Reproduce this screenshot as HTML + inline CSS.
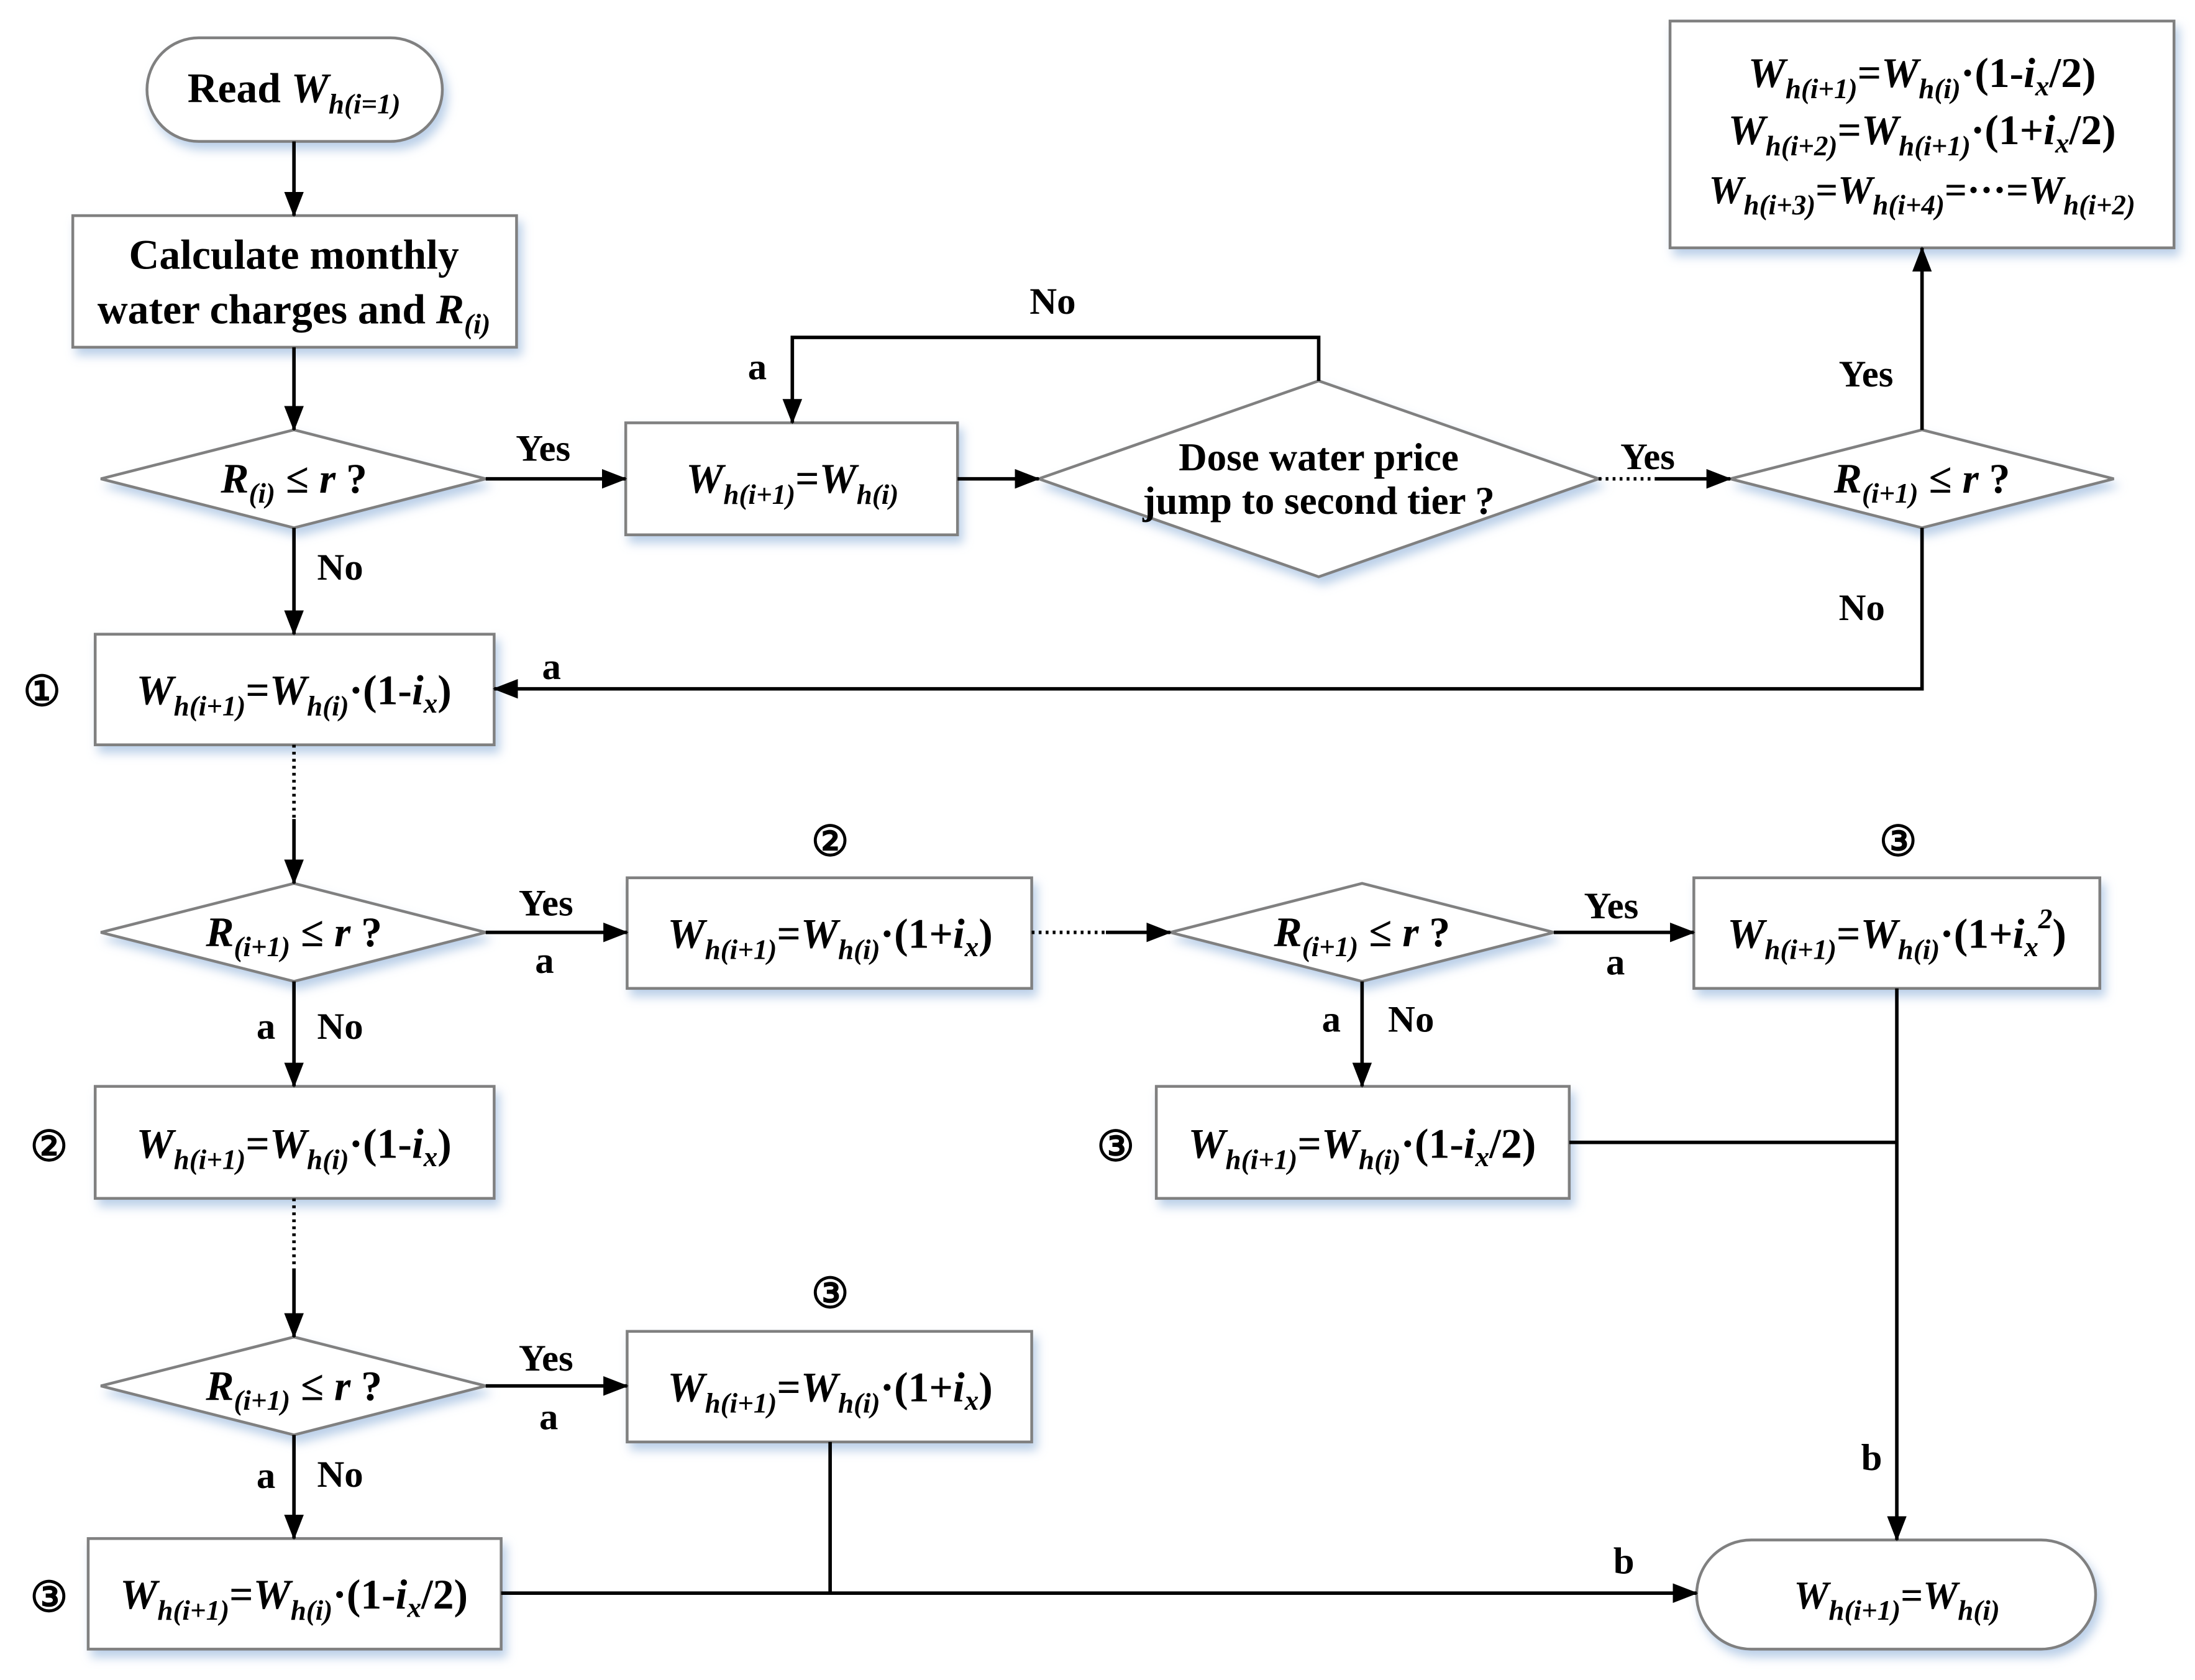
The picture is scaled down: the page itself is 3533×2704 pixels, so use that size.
<!DOCTYPE html>
<html><head><meta charset="utf-8"><style>
html,body{margin:0;padding:0;background:#fff;}
svg{display:block;}
text{font-family:"Liberation Serif",serif;font-size:30px;fill:#000;font-weight:bold;}
.sub{font-size:20px;font-style:italic;}
.it{font-style:italic;}
.lbl{font-size:27px;}
</style></head><body>
<svg width="3533" height="2704" viewBox="0 0 1568 1200" xmlns="http://www.w3.org/2000/svg">
<defs>
<filter id="sh" x="-10%" y="-20%" width="130%" height="150%">
<feDropShadow dx="3" dy="5" stdDeviation="3.5" flood-color="#b4cbe6" flood-opacity="0.9"/>
</filter>
<marker id="ar" markerWidth="18" markerHeight="14" refX="17" refY="7" orient="auto" markerUnits="userSpaceOnUse">
<path d="M0,0 L18,7 L0,14 z" fill="#000"/>
</marker>
</defs>
<g fill="#fff" stroke="#808080" stroke-width="2" filter="url(#sh)">
<rect x="105" y="27" width="211" height="74" rx="37"/>
<rect x="52" y="154" width="317" height="94"/>
<polygon points="72,342 210,307 347,342 210,377"/>
<rect x="447" y="302" width="237" height="80"/>
<polygon points="742,342 942,272 1142,342 942,412"/>
<polygon points="1236,342 1373,307 1510,342 1373,377"/>
<rect x="1193" y="15" width="360" height="162"/>
<rect x="68" y="453" width="285" height="79"/>
<polygon points="72,666 210,631 347,666 210,701"/>
<rect x="448" y="627" width="289" height="79"/>
<polygon points="836,666 973,631 1110,666 973,701"/>
<rect x="1210" y="627" width="290" height="79"/>
<rect x="68" y="776" width="285" height="80"/>
<rect x="826" y="776" width="295" height="80"/>
<polygon points="72,990 210,955 347,990 210,1025"/>
<rect x="448" y="951" width="289" height="79"/>
<rect x="63" y="1099" width="295" height="79"/>
<rect x="1212" y="1100" width="285" height="78" rx="39"/>
</g>
<g stroke="#000" stroke-width="2.5" fill="none">
<line x1="210" y1="101" x2="210" y2="154" marker-end="url(#ar)"/>
<line x1="210" y1="248" x2="210" y2="307" marker-end="url(#ar)"/>
<line x1="347" y1="342" x2="447" y2="342" marker-end="url(#ar)"/>
<line x1="210" y1="377" x2="210" y2="453" marker-end="url(#ar)"/>
<line x1="684" y1="342" x2="742" y2="342" marker-end="url(#ar)"/>
<polyline points="942,272 942,241 566,241 566,302" marker-end="url(#ar)"/>
<line x1="1142" y1="342" x2="1182" y2="342" stroke-dasharray="2,3"/>
<line x1="1182" y1="342" x2="1236" y2="342" marker-end="url(#ar)"/>
<line x1="1373" y1="307" x2="1373" y2="177" marker-end="url(#ar)"/>
<polyline points="1373,377 1373,492 353,492" marker-end="url(#ar)"/>
<line x1="210" y1="532" x2="210" y2="585" stroke-dasharray="2,3"/>
<line x1="210" y1="585" x2="210" y2="631" marker-end="url(#ar)"/>
<line x1="347" y1="666" x2="448" y2="666" marker-end="url(#ar)"/>
<line x1="210" y1="701" x2="210" y2="776" marker-end="url(#ar)"/>
<line x1="737" y1="666" x2="790" y2="666" stroke-dasharray="2,3"/>
<line x1="790" y1="666" x2="836" y2="666" marker-end="url(#ar)"/>
<line x1="1110" y1="666" x2="1210" y2="666" marker-end="url(#ar)"/>
<line x1="973" y1="701" x2="973" y2="776" marker-end="url(#ar)"/>
<line x1="1355" y1="706" x2="1355" y2="1100" marker-end="url(#ar)"/>
<line x1="1121" y1="816" x2="1355" y2="816"/>
<line x1="210" y1="856" x2="210" y2="908" stroke-dasharray="2,3"/>
<line x1="210" y1="908" x2="210" y2="955" marker-end="url(#ar)"/>
<line x1="347" y1="990" x2="448" y2="990" marker-end="url(#ar)"/>
<line x1="210" y1="1025" x2="210" y2="1099" marker-end="url(#ar)"/>
<line x1="593" y1="1030" x2="593" y2="1138"/>
<line x1="358" y1="1138" x2="1212" y2="1138" marker-end="url(#ar)"/>
</g>
<text x="210" y="73" text-anchor="middle">Read <tspan class="it">W</tspan><tspan class="sub" dy="8">h(i=1)</tspan></text>
<text x="210" y="192" text-anchor="middle">Calculate monthly</text>
<text x="210" y="231" text-anchor="middle">water charges and <tspan class="it">R</tspan><tspan class="sub" dy="7">(i)</tspan></text>
<text x="210" y="352" text-anchor="middle"><tspan class="it">R</tspan><tspan class="sub" dy="7">(i)</tspan><tspan dy="-7"> ≤ </tspan><tspan class="it">r</tspan> ?</text>
<text x="566" y="352" text-anchor="middle"><tspan class="it">W</tspan><tspan class="sub" dy="8">h(i+1)</tspan><tspan dy="-8">=</tspan><tspan class="it">W</tspan><tspan class="sub" dy="8">h(i)</tspan></text>
<text x="942" y="336" text-anchor="middle" style="font-size:28px">Dose water price</text>
<text x="942" y="367" text-anchor="middle" style="font-size:28px">jump to second tier ?</text>
<text x="1373" y="352" text-anchor="middle"><tspan class="it">R</tspan><tspan class="sub" dy="7">(i+1)</tspan><tspan dy="-7"> ≤ </tspan><tspan class="it">r</tspan> ?</text>
<text x="1373" y="62" text-anchor="middle"><tspan class="it">W</tspan><tspan class="sub" dy="8">h(i+1)</tspan><tspan dy="-8">=</tspan><tspan class="it">W</tspan><tspan class="sub" dy="8">h(i)</tspan><tspan dy="-8">·(1-</tspan><tspan class="it">i</tspan><tspan class="sub" dy="6">x</tspan><tspan dy="-6">/2)</tspan></text>
<text x="1373" y="103" text-anchor="middle"><tspan class="it">W</tspan><tspan class="sub" dy="8">h(i+2)</tspan><tspan dy="-8">=</tspan><tspan class="it">W</tspan><tspan class="sub" dy="8">h(i+1)</tspan><tspan dy="-8">·(1+</tspan><tspan class="it">i</tspan><tspan class="sub" dy="6">x</tspan><tspan dy="-6">/2)</tspan></text>
<text x="1373" y="145" text-anchor="middle" style="font-size:28px"><tspan class="it">W</tspan><tspan class="sub" dy="8">h(i+3)</tspan><tspan dy="-8">=</tspan><tspan class="it">W</tspan><tspan class="sub" dy="8">h(i+4)</tspan><tspan dy="-8">=···=</tspan><tspan class="it">W</tspan><tspan class="sub" dy="8">h(i+2)</tspan></text>
<text x="210" y="503" text-anchor="middle"><tspan class="it">W</tspan><tspan class="sub" dy="8">h(i+1)</tspan><tspan dy="-8">=</tspan><tspan class="it">W</tspan><tspan class="sub" dy="8">h(i)</tspan><tspan dy="-8">·(1-</tspan><tspan class="it">i</tspan><tspan class="sub" dy="6">x</tspan><tspan dy="-6">)</tspan></text>
<text x="210" y="676" text-anchor="middle"><tspan class="it">R</tspan><tspan class="sub" dy="7">(i+1)</tspan><tspan dy="-7"> ≤ </tspan><tspan class="it">r</tspan> ?</text>
<text x="593" y="677" text-anchor="middle"><tspan class="it">W</tspan><tspan class="sub" dy="8">h(i+1)</tspan><tspan dy="-8">=</tspan><tspan class="it">W</tspan><tspan class="sub" dy="8">h(i)</tspan><tspan dy="-8">·(1+</tspan><tspan class="it">i</tspan><tspan class="sub" dy="6">x</tspan><tspan dy="-6">)</tspan></text>
<text x="973" y="676" text-anchor="middle"><tspan class="it">R</tspan><tspan class="sub" dy="7">(i+1)</tspan><tspan dy="-7"> ≤ </tspan><tspan class="it">r</tspan> ?</text>
<text x="1355" y="677" text-anchor="middle"><tspan class="it">W</tspan><tspan class="sub" dy="8">h(i+1)</tspan><tspan dy="-8">=</tspan><tspan class="it">W</tspan><tspan class="sub" dy="8">h(i)</tspan><tspan dy="-8">·(1+</tspan><tspan class="it">i</tspan><tspan class="sub" dy="6">x</tspan><tspan class="sub" dy="-20">2</tspan><tspan dy="14">)</tspan></text>
<text x="210" y="827" text-anchor="middle"><tspan class="it">W</tspan><tspan class="sub" dy="8">h(i+1)</tspan><tspan dy="-8">=</tspan><tspan class="it">W</tspan><tspan class="sub" dy="8">h(i)</tspan><tspan dy="-8">·(1-</tspan><tspan class="it">i</tspan><tspan class="sub" dy="6">x</tspan><tspan dy="-6">)</tspan></text>
<text x="973" y="827" text-anchor="middle"><tspan class="it">W</tspan><tspan class="sub" dy="8">h(i+1)</tspan><tspan dy="-8">=</tspan><tspan class="it">W</tspan><tspan class="sub" dy="8">h(i)</tspan><tspan dy="-8">·(1-</tspan><tspan class="it">i</tspan><tspan class="sub" dy="6">x</tspan><tspan dy="-6">/2)</tspan></text>
<text x="210" y="1000" text-anchor="middle"><tspan class="it">R</tspan><tspan class="sub" dy="7">(i+1)</tspan><tspan dy="-7"> ≤ </tspan><tspan class="it">r</tspan> ?</text>
<text x="593" y="1001" text-anchor="middle"><tspan class="it">W</tspan><tspan class="sub" dy="8">h(i+1)</tspan><tspan dy="-8">=</tspan><tspan class="it">W</tspan><tspan class="sub" dy="8">h(i)</tspan><tspan dy="-8">·(1+</tspan><tspan class="it">i</tspan><tspan class="sub" dy="6">x</tspan><tspan dy="-6">)</tspan></text>
<text x="210" y="1149" text-anchor="middle"><tspan class="it">W</tspan><tspan class="sub" dy="8">h(i+1)</tspan><tspan dy="-8">=</tspan><tspan class="it">W</tspan><tspan class="sub" dy="8">h(i)</tspan><tspan dy="-8">·(1-</tspan><tspan class="it">i</tspan><tspan class="sub" dy="6">x</tspan><tspan dy="-6">/2)</tspan></text>
<text x="1355" y="1149" text-anchor="middle" style="font-size:28px"><tspan class="it">W</tspan><tspan class="sub" dy="8">h(i+1)</tspan><tspan dy="-8">=</tspan><tspan class="it">W</tspan><tspan class="sub" dy="8">h(i)</tspan></text>
<g text-anchor="middle">
<text x="388" y="329" class="lbl">Yes</text>
<text x="243" y="414" class="lbl">No</text>
<text x="752" y="224" class="lbl">No</text>
<text x="541" y="271" class="lbl">a</text>
<text x="1177" y="335" class="lbl">Yes</text>
<text x="1333" y="276" class="lbl">Yes</text>
<text x="1330" y="443" class="lbl">No</text>
<text x="394" y="485" class="lbl">a</text>
<text x="390" y="654" class="lbl">Yes</text>
<text x="389" y="695" class="lbl">a</text>
<text x="190" y="742" class="lbl">a</text>
<text x="243" y="742" class="lbl">No</text>
<text x="1151" y="656" class="lbl">Yes</text>
<text x="1154" y="696" class="lbl">a</text>
<text x="951" y="737" class="lbl">a</text>
<text x="1008" y="737" class="lbl">No</text>
<text x="1337" y="1050" class="lbl">b</text>
<text x="390" y="979" class="lbl">Yes</text>
<text x="392" y="1021" class="lbl">a</text>
<text x="190" y="1063" class="lbl">a</text>
<text x="243" y="1062" class="lbl">No</text>
<text x="1160" y="1124" class="lbl">b</text>
<text x="30" y="504" style="font-size:30px">①</text>
<text x="593" y="611" style="font-size:30px">②</text>
<text x="1356" y="611" style="font-size:30px">③</text>
<text x="35" y="829" style="font-size:30px">②</text>
<text x="797" y="829" style="font-size:30px">③</text>
<text x="593" y="934" style="font-size:30px">③</text>
<text x="35" y="1151" style="font-size:30px">③</text>
</g>
</svg>
</body></html>
